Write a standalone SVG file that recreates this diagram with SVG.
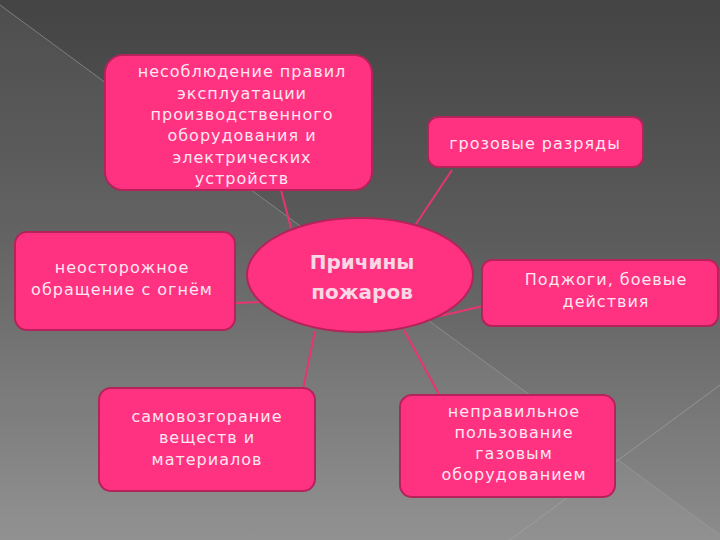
<svg xmlns="http://www.w3.org/2000/svg" width="720" height="540" viewBox="0 0 720 540">
  <defs>
    <linearGradient id="bg" x1="0" y1="0" x2="0" y2="1">
      <stop offset="0" stop-color="#444444"/>
      <stop offset="0.45" stop-color="#5c5c5c"/>
      <stop offset="1" stop-color="#8c8c8c"/>
    </linearGradient>
    <style>
      .node { fill: #ff3282; stroke: #b5235a; stroke-width: 2; }
      .conn { stroke: #e8356f; stroke-width: 2; fill: none; }
      .t { font-family: "DejaVu Sans", "Noto Sans", sans-serif; font-size: 16px; letter-spacing: 1px; fill: #ffe6ef; text-anchor: middle; }
      .tc { font-family: "DejaVu Sans", "Noto Sans", sans-serif; font-size: 20px; font-weight: bold; fill: #f8d8e4; text-anchor: middle; }
    </style>
  </defs>

  <g id="background">
    <rect x="0" y="0" width="720" height="540" fill="url(#bg)"/>
    <polygon points="0,5 720,535 720,540 0,540" fill="#ffffff" fill-opacity="0.05"/>
    <line x1="0" y1="5" x2="720" y2="535" stroke="#a0a0a0" stroke-opacity="0.6" stroke-width="1"/>
    <line x1="720" y1="385" x2="510" y2="540" stroke="#a8a8a8" stroke-opacity="0.6" stroke-width="1"/>
  </g>

  <g id="connectors">
    <line class="conn" x1="281" y1="190" x2="291" y2="228"/>
    <line class="conn" x1="452" y1="170" x2="416" y2="224"/>
    <line class="conn" x1="440" y1="316" x2="483" y2="306"/>
    <line class="conn" x1="235" y1="303" x2="262" y2="302"/>
    <line class="conn" x1="315" y1="331" x2="303" y2="389"/>
    <line class="conn" x1="404" y1="330" x2="440" y2="396"/>
  </g>

  <g id="node-equipment">
    <rect class="node" x="105" y="55" width="267" height="135" rx="18"/>
    <text class="t" x="242" y="77">несоблюдение правил</text>
    <text class="t" x="242" y="98.5">эксплуатации</text>
    <text class="t" x="242" y="120">производственного</text>
    <text class="t" x="242" y="141">оборудования и</text>
    <text class="t" x="242" y="162.5">электрических</text>
    <text class="t" x="242" y="184">устройств</text>
  </g>

  <g id="node-lightning">
    <rect class="node" x="428" y="117" width="215" height="50" rx="10"/>
    <text class="t" x="535" y="149">грозовые разряды</text>
  </g>

  <g id="node-arson">
    <rect class="node" x="482" y="260" width="236" height="66" rx="10"/>
    <text class="t" x="606" y="285">Поджоги, боевые</text>
    <text class="t" x="606" y="307">действия</text>
  </g>

  <g id="node-fire">
    <rect class="node" x="15" y="232" width="220" height="98" rx="12"/>
    <text class="t" x="122" y="273">неосторожное</text>
    <text class="t" x="122" y="295">обращение с огнём</text>
  </g>

  <g id="node-selfignition">
    <rect class="node" x="99" y="388" width="216" height="103" rx="12"/>
    <text class="t" x="207" y="422">самовозгорание</text>
    <text class="t" x="207" y="443">веществ и</text>
    <text class="t" x="207" y="465">материалов</text>
  </g>

  <g id="node-gas">
    <rect class="node" x="400" y="395" width="215" height="102" rx="12"/>
    <text class="t" x="514" y="417">неправильное</text>
    <text class="t" x="514" y="438">пользование</text>
    <text class="t" x="514" y="459">газовым</text>
    <text class="t" x="514" y="480">оборудованием</text>
  </g>

  <g id="node-center">
    <ellipse class="node" cx="360" cy="275" rx="113" ry="57"/>
    <text class="tc" x="362" y="269">Причины</text>
    <text class="tc" x="362" y="299">пожаров</text>
  </g>
</svg>
